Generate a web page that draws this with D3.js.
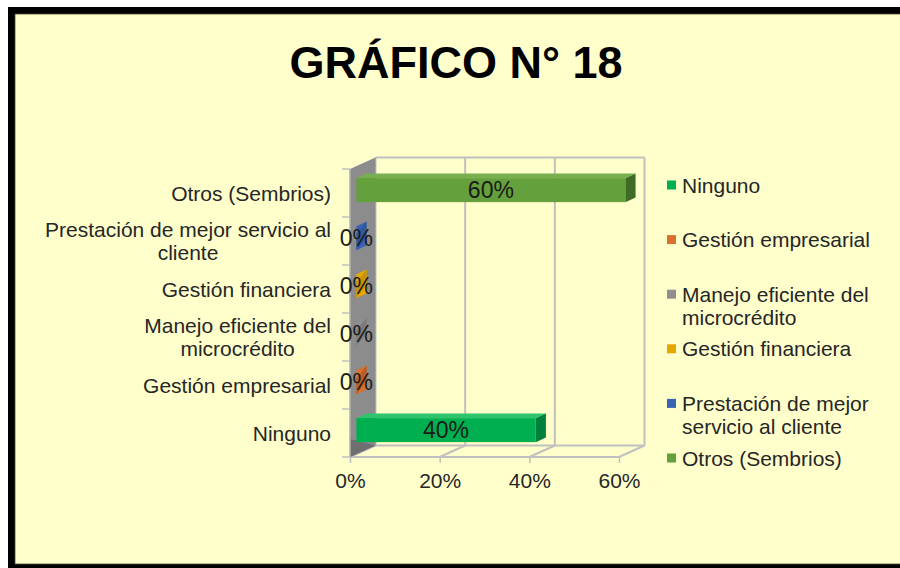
<!DOCTYPE html>
<html>
<head>
<meta charset="utf-8">
<script src="https://cdn.jsdelivr.net/npm/d3@7"></script>
<style>
  html, body { margin: 0; padding: 0; background: #ffffff; }
  svg { display: block; }
  text { font-family: "Liberation Sans", Arial, sans-serif; }
</style>
</head>
<body>
<svg id="chart" width="900" height="568"></svg>
<script>
// ---------------- data ----------------
const title = "GRÁFICO N° 18";
const categories = [
  "Ninguno",
  "Gestión empresarial",
  "Manejo eficiente del microcrédito",
  "Gestión financiera",
  "Prestación de mejor servicio al cliente",
  "Otros (Sembrios)"
];
const values = [40, 0, 0, 0, 0, 60];
const xTicks = [0, 20, 40, 60];

// ---------------- styles ----------------
const frontColors = ["#00B050", "#D9702E", "#8F8F8F", "#E6A800", "#3A64B3", "#64A03C"];
const sideColors  = ["#00803A", "#A9521C", "#6E6E6E", "#B88600", "#2A4C8C", "#3F6B25"];
const topColors   = ["#2EC46C", "#E48A50", "#A6A6A6", "#F0BE30", "#5A80C8", "#78B050"];

const svg = d3.select("#chart");
const W = 900, H = 568;

// frame
svg.append("rect").attr("x", 0).attr("y", 0).attr("width", W).attr("height", H).attr("fill", "#ffffff");
svg.append("rect").attr("x", 8).attr("y", 7).attr("width", W).attr("height", H).attr("fill", "#000000");
svg.append("rect").attr("x", 15).attr("y", 14).attr("width", W).attr("height", 550)
  .attr("fill", "#FFFFCC").attr("stroke", "#4a4a30").attr("stroke-width", 0.8);

// title
svg.append("text")
  .attr("x", 456).attr("y", 78)
  .attr("text-anchor", "middle")
  .attr("font-size", 45).attr("font-weight", "bold")
  .attr("fill", "#000")
  .text(title);

// ---------------- scales ----------------
const x = d3.scaleLinear().domain([0, 60]).range([350, 619]);
const y = d3.scaleBand().domain(categories).range([457, 169]).paddingInner(0).paddingOuter(0);
const Dx = 25.5, Dy = -11.5;        // full depth vector
const f1 = 0.25, f2 = 0.65;         // bar front / back depth fractions

const plot = svg.append("g");
const gridColor = "#C0C0C0";
const yTop = y.range()[1], yBot = y.range()[0];

// back wall gridlines
xTicks.forEach(t => {
  plot.append("line")
    .attr("x1", x(t) + Dx).attr("x2", x(t) + Dx)
    .attr("y1", yTop + Dy).attr("y2", yBot + Dy)
    .attr("stroke", gridColor).attr("stroke-width", 2);
});
// back wall top line
plot.append("line")
  .attr("x1", x(0) + Dx).attr("x2", x(60) + Dx)
  .attr("y1", yTop + Dy).attr("y2", yTop + Dy)
  .attr("stroke", gridColor).attr("stroke-width", 2);
// floor back line
plot.append("line")
  .attr("x1", x(0) + Dx).attr("x2", x(60) + Dx)
  .attr("y1", yBot + Dy).attr("y2", yBot + Dy)
  .attr("stroke", gridColor).attr("stroke-width", 2);
// floor front line
plot.append("line")
  .attr("x1", x(0)).attr("x2", x(60))
  .attr("y1", yBot).attr("y2", yBot)
  .attr("stroke", gridColor).attr("stroke-width", 2);
// floor diagonals
xTicks.forEach(t => {
  plot.append("line")
    .attr("x1", x(t)).attr("x2", x(t) + Dx)
    .attr("y1", yBot).attr("y2", yBot + Dy)
    .attr("stroke", gridColor).attr("stroke-width", 2);
});

// side wall
const pts = a => a.map(p => p.join(",")).join(" ");
plot.append("polygon")
  .attr("points", pts([[x(0), yTop], [x(0) + Dx, yTop + Dy], [x(0) + Dx, yBot + Dy], [x(0), yBot]]))
  .attr("fill", "#8C8C8C");
plot.append("polygon")
  .attr("points", pts([[x(0), yBot - 18], [x(0) + Dx, yBot + Dy], [x(0), yBot]]))
  .attr("fill", "#6F6F6F");

// axes
const xAxis = d3.axisBottom(x).tickValues(xTicks).tickFormat(d => d + "%").tickSize(6).tickPadding(10);
const gx = plot.append("g").attr("transform", `translate(0,${yBot})`).call(xAxis);
gx.select(".domain").remove();
gx.selectAll(".tick line").attr("stroke", gridColor).attr("stroke-width", 1.5);
gx.selectAll(".tick text").attr("font-size", 21).attr("fill", "#262626")
  .attr("font-family", "'Liberation Sans', Arial, sans-serif");

// y axis line and ticks at band boundaries
plot.append("line").attr("x1", x(0)).attr("x2", x(0)).attr("y1", yTop).attr("y2", yBot)
  .attr("stroke", "#B0B0B0").attr("stroke-width", 1.5);
const bounds = categories.map(c => y(c)).concat([yBot]);
bounds.forEach(b => {
  plot.append("line").attr("x1", x(0) - 8).attr("x2", x(0)).attr("y1", b).attr("y2", b)
    .attr("stroke", gridColor).attr("stroke-width", 1.5);
});

// bars
const bh = y.bandwidth() * 0.5;
const ddx = (f2 - f1) * Dx, ddy = (f2 - f1) * Dy;
categories.forEach((c, i) => {
  const v = values[i];
  const yc = y(c) + y.bandwidth() / 2 + f1 * Dy;
  const yt = yc - bh / 2, yb = yc + bh / 2;
  const xl = x(0) + f1 * Dx, xr = x(v) + f1 * Dx;
  const g = plot.append("g");
  // top face
  g.append("polygon")
    .attr("points", pts([[xl, yt], [xr, yt], [xr + ddx, yt + ddy], [xl + ddx, yt + ddy]]))
    .attr("fill", topColors[i]);
  // front face
  if (v > 0) {
    g.append("rect").attr("x", xl).attr("y", yt).attr("width", xr - xl).attr("height", bh)
      .attr("fill", frontColors[i]);
  }
  // right (end) face
  g.append("polygon")
    .attr("points", pts([[xr, yt], [xr + ddx, yt + ddy], [xr + ddx, yb + ddy], [xr, yb]]))
    .attr("fill", v > 0 ? sideColors[i] : frontColors[i]);
  if (v === 0) {
    g.append("polygon")
      .attr("points", pts([[xr, yt + bh * 0.35], [xr + ddx, yt + ddy], [xr + ddx, yb + ddy - bh * 0.35], [xr, yb]]))
      .attr("fill", sideColors[i]).attr("opacity", 0.6);
  }
  // data label
  g.append("text")
    .attr("x", (xl + xr) / 2).attr("y", yc)
    .attr("dy", "0.36em")
    .attr("text-anchor", "middle")
    .attr("font-size", 23).attr("fill", "#1a1a1a")
    .text(v + "%");
});

// wrap helper
function wrapLines(text, maxW, size) {
  const tmp = svg.append("text").attr("font-size", size);
  const words = text.split(" ");
  const lines = [];
  let cur = "";
  words.forEach(w => {
    const test = cur ? cur + " " + w : w;
    tmp.text(test);
    if (tmp.node().getComputedTextLength() > maxW && cur) {
      lines.push(cur); cur = w;
    } else cur = test;
  });
  lines.push(cur);
  const widths = lines.map(l => { tmp.text(l); return tmp.node().getComputedTextLength(); });
  tmp.remove();
  return { lines, width: d3.max(widths) };
}

// category labels
const labelRight = 331, lh = 23.5;
categories.forEach(c => {
  const w = wrapLines(c, 300, 21);
  const yc = y(c) + y.bandwidth() / 2;
  const cx = labelRight - w.width / 2;
  const t = svg.append("text").attr("font-size", 21).attr("fill", "#262626").attr("text-anchor", "middle");
  w.lines.forEach((l, k) => {
    t.append("tspan").attr("x", cx)
      .attr("y", yc - (w.lines.length - 1) * lh / 2 + k * lh)
      .attr("dy", "0.36em").text(l);
  });
});

// legend
const ly = d3.scalePoint().domain(categories).range([185, 458]);
categories.forEach((c, i) => {
  const w = wrapLines(c, 200, 21);
  const y0 = ly(c);
  svg.append("rect").attr("x", 667).attr("y", y0 - 4.5).attr("width", 9).attr("height", 9)
    .attr("fill", frontColors[i]);
  const t = svg.append("text").attr("font-size", 21).attr("fill", "#262626");
  w.lines.forEach((l, k) => {
    t.append("tspan").attr("x", 682).attr("y", y0 + k * lh).attr("dy", "0.36em").text(l);
  });
});
</script>
</body>
</html>
